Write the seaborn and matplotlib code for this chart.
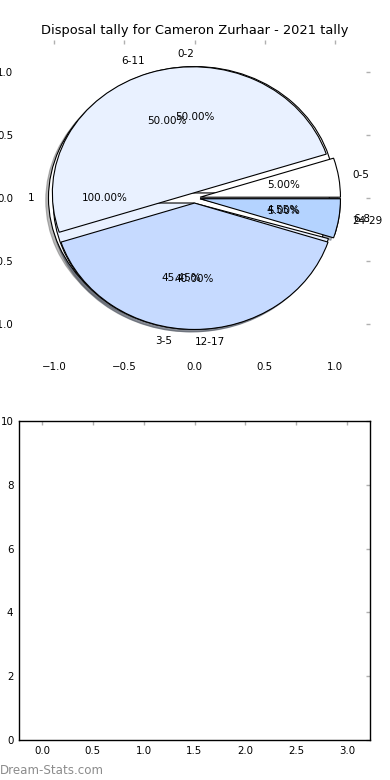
import matplotlib
matplotlib.use("Agg")
import matplotlib.pyplot as plt
import seaborn as sns
import numpy as np

# tallies: number of games in each disposal range
single_labels = ['1']
single_counts = [1]

narrow_labels = ['0-2', '3-5', '6-8']
narrow_counts = [11, 10, 1]

wide_labels = ['0-5', '6-11', '12-17', '24-29']
wide_counts = [1, 10, 8, 1]

# lower panel (empty bars)
bar_x = [0, 1, 2, 3]
bar_y = [0, 0, 0, 0]

title = 'Disposal tally for Cameron Zurhaar - 2021 tally'

sns.set_style('white')
plt.rcParams['font.family'] = ['DejaVu Sans']
plt.rcParams['text.color'] = 'black'

wedge_colors = ['#ffffff', '#e9f1ff', '#c6daff', '#b4d3ff']

fig = plt.figure(figsize=(3.9, 7.8), dpi=100)
ax1 = fig.add_axes([19/390, 1 - 356/780, 351/390, 316/780])
ax2 = fig.add_axes([19/390, 1 - 740/780, 351/390, 319/780])

# pies drawn on top of each other, like the original
for labels, counts in [(single_labels, single_counts),
                       (narrow_labels, narrow_counts),
                       (wide_labels, wide_counts)]:
    wedges, texts, autotexts = ax1.pie(
        counts, labels=labels, colors=wedge_colors[:len(counts)],
        explode=[0.04] * len(counts), autopct='%.2f%%',
        shadow=dict(ox=-0.014, oy=-0.014, shade=0.6, alpha=0.45),
        startangle=0, wedgeprops=dict(edgecolor='black', linewidth=0.8),
        textprops=dict(fontsize=7.5, color='black'))

ax1.set_aspect('auto')
ax1.set_xlim(-1.25, 1.25)
ax1.set_ylim(-1.25, 1.25)
ax1.set_xticks([-1.0, -0.5, 0.0, 0.5, 1.0])
ax1.set_yticks([-1.0, -0.5, 0.0, 0.5, 1.0])
ax1.set_title(title, fontsize=9.4, pad=4, color='black')

sns.barplot(x=bar_x, y=bar_y, native_scale=True, ax=ax2, color='#4c72b0')
ax2.set_xlim(-0.225, 3.225)
ax2.set_ylim(0, 10)
ax2.set_xticks([0.0, 0.5, 1.0, 1.5, 2.0, 2.5, 3.0])
ax2.set_yticks([0, 2, 4, 6, 8, 10])
for sp in ax2.spines.values():
    sp.set_color('black')
    sp.set_linewidth(1)

for ax in [ax1, ax2]:
    ax.tick_params(direction='in', top=True, right=True, length=3, width=1,
                   color='#b0b0b0', labelcolor='black', labelsize=7.4, pad=4)
    ax.set_xlabel('')
    ax.set_ylabel('')

fig.text(0.0, 1 - 770/780, 'Dream-Stats.com', color='#8c8c8c', fontsize=8.6,
         va='center', ha='left')

fig.savefig('out.png', dpi=100)
